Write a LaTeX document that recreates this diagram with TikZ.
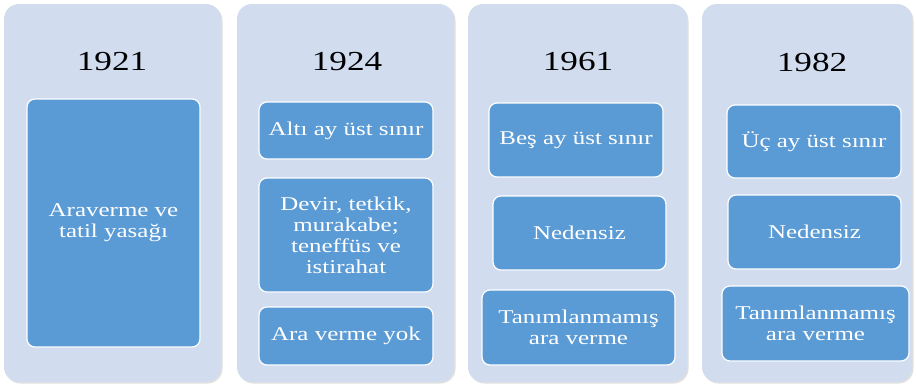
\documentclass[tikz,border=0pt]{standalone}
\usepackage{fontspec}
\setmainfont[FakeStretch=1.28]{Liberation Serif}
\usetikzlibrary{shadows}
\definecolor{panelfill}{HTML}{D1DDEF}
\definecolor{boxfill}{HTML}{5B9BD5}
\begin{document}
\begin{tikzpicture} [x=1pt, y=-1pt,
  panel/.style={fill=panelfill, rounded corners=15pt, inner sep=0pt,
    drop shadow={opacity=0.25, shadow xshift=1.5pt, shadow yshift=-1.5pt}},
  year/.style={font=\fontsize{27.5}{29}\selectfont},
  item/.style={fill=boxfill, draw=white, line width=1.2pt, rounded corners=8pt,
    inner sep=0pt, text=white, align=center,
    font=\fontsize{19.5}{21}\selectfont}]
\useasboundingbox (0,0) rectangle (916,384);
%\tikzstyle{every node}=[draw];
\node [panel, minimum width=217pt, minimum height=378pt] (p1) at (112.5,193) {};
\node [panel, minimum width=217pt, minimum height=378pt] (p2) at (345.5,193) {};
\node [panel, minimum width=219pt, minimum height=378pt] (p3) at (577.5,193) {};
\node [panel, minimum width=210pt, minimum height=378pt] (p4) at (807,193) {};
\node [year] (y1) at (112,62) {1921};
\node [year] (y2) at (347,62) {1924};
\node [year] (y3) at (578,62) {1961};
\node [year] (y4) at (812,62) {1982};
\node [item, minimum width=173pt, minimum height=248pt] (a1) at (113.5,223) {Araverme ve\\tatil yasağı};
\node [item, minimum width=174pt, minimum height=57pt] (a2) at (346,130.5) {Altı ay üst sınır};
\node [item, minimum width=174pt, minimum height=114pt] (b2) at (346,235) {Devir, tetkik,\\murakabe;\\teneffüs ve\\istirahat};
\node [item, minimum width=174pt, minimum height=58pt] (c2) at (346,336) {Ara verme yok};
\node [item, minimum width=174pt, minimum height=74pt] (a3) at (576,140) {Beş ay üst sınır};
\node [item, minimum width=173pt, minimum height=74pt] (b3) at (579.5,233) {Nedensiz};
\node [item, minimum width=193pt, minimum height=75pt] (c3) at (578.5,327.5) {Tanımlanmamış\\ara verme};
\node [item, minimum width=174pt, minimum height=73pt] (a4) at (814,141.5) {Üç ay üst sınır};
\node [item, minimum width=173pt, minimum height=74pt] (b4) at (814.5,232) {Nedensiz};
\node [item, minimum width=187pt, minimum height=75pt] (c4) at (815.5,323.5) {Tanımlanmamış\\ara verme};
\end{tikzpicture}
\end{document}
